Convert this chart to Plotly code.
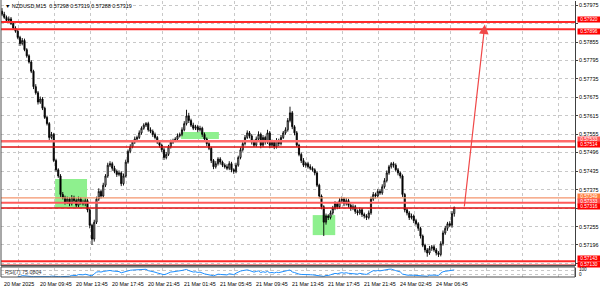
import numpy as np
import plotly.graph_objects as go

W, H = 600, 289

# ---------------- data ----------------
first_open = 0.57955
closes = [
    0.57945, 0.57935, 0.57925, 0.57930, 0.57915, 0.57900, 0.57890, 0.57870, 0.57850, 0.57860,
    0.57830, 0.57810, 0.57790, 0.57760, 0.57710, 0.57690, 0.57660, 0.57670, 0.57640, 0.57610,
    0.57590, 0.57545, 0.57555, 0.57470, 0.57440, 0.57420, 0.57360, 0.57350, 0.57335, 0.57345,
    0.57330, 0.57350, 0.57340, 0.57325, 0.57345, 0.57335, 0.57330, 0.57340, 0.57310, 0.57260,
    0.57215, 0.57270, 0.57345, 0.57370, 0.57355, 0.57390, 0.57420, 0.57455, 0.57460, 0.57445,
    0.57435, 0.57425, 0.57430, 0.57395, 0.57420, 0.57465, 0.57500, 0.57515, 0.57530, 0.57540,
    0.57545, 0.57560, 0.57575, 0.57585, 0.57590, 0.57570, 0.57565, 0.57555, 0.57545, 0.57530,
    0.57520, 0.57505, 0.57480, 0.57490, 0.57515, 0.57530, 0.57535, 0.57540, 0.57550, 0.57555,
    0.57570, 0.57590, 0.57615, 0.57600, 0.57585, 0.57575, 0.57580, 0.57570, 0.57575, 0.57555,
    0.57540, 0.57525, 0.57510, 0.57470, 0.57450, 0.57460, 0.57475, 0.57465, 0.57455, 0.57450,
    0.57445, 0.57460, 0.57440, 0.57435, 0.57455, 0.57480, 0.57505, 0.57525, 0.57545, 0.57560,
    0.57550, 0.57530, 0.57520, 0.57540, 0.57555, 0.57520, 0.57545, 0.57530, 0.57560, 0.57520,
    0.57530, 0.57515, 0.57535, 0.57525, 0.57545, 0.57560, 0.57570, 0.57600, 0.57625, 0.57580,
    0.57560, 0.57520, 0.57490, 0.57470, 0.57455, 0.57460, 0.57450, 0.57445, 0.57440, 0.57430,
    0.57390, 0.57355, 0.57320, 0.57270, 0.57290, 0.57285, 0.57300, 0.57315, 0.57330, 0.57320,
    0.57340, 0.57345, 0.57330, 0.57340, 0.57325, 0.57315, 0.57320, 0.57305, 0.57300, 0.57310,
    0.57295, 0.57290, 0.57285, 0.57300, 0.57345, 0.57360, 0.57355, 0.57370, 0.57365, 0.57385,
    0.57405, 0.57430, 0.57450, 0.57460, 0.57455, 0.57440, 0.57430, 0.57420, 0.57360, 0.57310,
    0.57300, 0.57285, 0.57290, 0.57275, 0.57265, 0.57250, 0.57225, 0.57195, 0.57180, 0.57170,
    0.57185, 0.57190, 0.57180, 0.57170, 0.57165, 0.57200, 0.57235, 0.57250, 0.57265, 0.57260,
    0.57298, 0.57319,
]
# wick lengths in points (0.00001)
upper_wick = [
    10, 8, 6, 8, 6, 5, 6, 5, 5, 8, 6, 5, 5, 6, 5, 8, 6, 8, 6, 5,
    6, 5, 8, 5, 6, 5, 6, 8, 6, 8, 6, 8, 6, 7, 8, 6, 8, 7, 6, 5,
    5, 8, 8, 10, 6, 8, 6, 8, 8, 6, 8, 6, 8, 5, 8, 8, 6, 8, 6, 8,
    6, 8, 6, 6, 5, 6, 8, 6, 6, 5, 6, 5, 6, 8, 6, 8, 6, 6, 8, 6,
    8, 8, 20, 10, 6, 8, 6, 6, 8, 5, 6, 5, 6, 5, 5, 8, 6, 6, 5, 6,
    8, 8, 6, 5, 8, 6, 8, 6, 8, 8, 6, 6, 8, 8, 10, 6, 8, 6, 10, 6,
    8, 6, 8, 6, 8, 6, 8, 8, 20, 6, 5, 6, 5, 6, 8, 6, 6, 8, 6, 5,
    6, 5, 5, 5, 8, 6, 8, 8, 8, 6, 8, 8, 6, 8, 6, 6, 8, 6, 6, 8,
    6, 6, 6, 8, 8, 8, 6, 8, 6, 8, 8, 8, 6, 5, 6, 6, 6, 5, 5, 5,
    6, 6, 8, 5, 6, 5, 5, 5, 5, 6, 8, 6, 6, 6, 6, 8, 8, 8, 6, 8,
    8, 0,
]
lower_wick = [
    6, 5, 8, 6, 5, 6, 5, 6, 8, 6, 5, 6, 5, 6, 8, 6, 8, 6, 6, 5,
    6, 8, 6, 5, 6, 6, 8, 6, 8, 6, 8, 6, 8, 6, 6, 8, 6, 8, 8, 10,
    19, 8, 6, 6, 8, 5, 6, 6, 6, 8, 6, 8, 6, 8, 6, 5, 5, 6, 5, 6,
    5, 5, 6, 5, 6, 6, 6, 8, 6, 6, 8, 8, 8, 6, 5, 6, 6, 5, 6, 5,
    6, 5, 6, 8, 6, 6, 6, 8, 6, 8, 6, 8, 6, 8, 8, 6, 6, 8, 6, 6,
    6, 6, 8, 8, 6, 5, 6, 6, 6, 5, 8, 8, 6, 6, 6, 10, 6, 8, 6, 10,
    8, 8, 6, 8, 6, 5, 6, 6, 6, 8, 8, 6, 6, 8, 6, 8, 6, 6, 6, 8,
    6, 8, 8, 45, 8, 8, 6, 6, 6, 8, 6, 6, 8, 6, 8, 8, 6, 8, 8, 6,
    8, 8, 8, 6, 6, 6, 8, 6, 6, 6, 6, 6, 6, 6, 8, 6, 8, 8, 8, 8,
    8, 8, 6, 8, 6, 8, 8, 6, 8, 12, 6, 8, 6, 8, 8, 6, 6, 6, 8, 6,
    8, 10,
]

tick_labels = ["20 Mar 2025", "20 Mar 09:45", "20 Mar 13:45", "20 Mar 17:45", "20 Mar 21:45",
               "21 Mar 01:45", "21 Mar 05:45", "21 Mar 09:45", "21 Mar 13:45", "21 Mar 17:45",
               "21 Mar 21:45", "24 Mar 02:45", "24 Mar 06:45"]
# grid prices; labels hidden behind level tags are left blank
price_ticks = [0.57975, 0.57915, 0.57855, 0.57795, 0.57735, 0.57675, 0.57615, 0.57555,
               0.57496, 0.57435, 0.57375, 0.57315, 0.57255, 0.57196, 0.57136]
price_tick_text = ["0.57975", "", "0.57855", "0.57795", "0.57735", "0.57675", "0.57615",
                   "0.57555", "0.57496", "0.57435", "0.57375", "", "0.57255", "0.57196", ""]

levels = [0.57920, 0.57896, 0.57533, 0.57514, 0.57349, 0.57333, 0.57316, 0.57143, 0.57130]
level_text = ["0.57920", "0.57896", "0.57533", "0.57514", "0.57349", "0.57333", "0.57316", "0.57143", "0.57130"]

zones = [  # (bar_from, bar_to, price_low, price_high)
    (23.6, 37.8, 0.57316, 0.57410),
    (79.6, 96.4, 0.57540, 0.57563),
    (138.1, 148.1, 0.57228, 0.57293),
]
arrow_from = (205.4, 0.57316)
arrow_to = (214.6, 0.57912)
title_text = "▼ NZDUSD,M15  0.57298 0.57319 0.57288 0.57319"
rsi_text = "RSI(7) 75.0804"

# ---------------- derived ----------------
n = len(closes)
assert len(upper_wick) == n and len(lower_wick) == n, (n, len(upper_wick), len(lower_wick))
opens = [first_open] + closes[:-1]
highs = [max(o, c) + u * 1e-5 for o, c, u in zip(opens, closes, upper_wick)]
lows = [min(o, c) - l * 1e-5 for o, c, l in zip(opens, closes, lower_wick)]
xs = list(range(n))

# RSI(7), Wilder smoothing
period = 7
c = np.array(closes)
d = np.diff(c)
gain = np.where(d > 0, d, 0.0)
loss = np.where(d < 0, -d, 0.0)
rsi = [None] * n
ag = gain[:period].mean()
al = loss[:period].mean()
rsi[period] = 100 - 100 / (1 + ag / al) if al > 0 else 100
for i in range(period, len(d)):
    ag = (ag * (period - 1) + gain[i]) / period
    al = (al * (period - 1) + loss[i]) / period
    rsi[i + 1] = 100 - 100 / (1 + ag / al) if al > 0 else 100

# ---------------- geometry helpers ----------------
def px(x):
    return x / W

def py(y):
    return 1 - y / H

X_LEFT, X_RIGHT = 1, 575
MAIN_TOP, MAIN_BOT = 1, 266
RSI_TOP, RSI_BOT = 268, 277
bar0_px, bar_step = 2.0, 2.25
x_range = [(X_LEFT - bar0_px) / bar_step, (X_RIGHT - bar0_px) / bar_step]

def p_at(y):
    return 0.57855 - (y - 42) / 30800.0
y_range = [p_at(MAIN_BOT), p_at(MAIN_TOP)]

# tag label vertical centres (pixels) – stacked like the terminal does
tag_y_px = [20, 31.5, 139.5, 144.5, 196.2, 201.3, 206.4, 258.8, 264.2]

FONT = "Liberation Sans"
FS = 5.4

fig = go.Figure()
fig.add_trace(go.Candlestick(
    x=xs, open=opens, high=highs, low=lows, close=closes,
    increasing=dict(line=dict(color="black", width=0.9), fillcolor="white"),
    decreasing=dict(line=dict(color="black", width=0.9), fillcolor="black"),
    whiskerwidth=0, xaxis="x", yaxis="y", showlegend=False, hoverinfo="skip",
))
fig.add_trace(go.Scatter(
    x=xs, y=rsi, mode="lines", line=dict(color="#1e90ff", width=1),
    xaxis="x2", yaxis="y2", showlegend=False, hoverinfo="skip",
))

grid_x = [7.5 + 16 * k for k in range(16)]
grid_col = "#c8c8c8"

fig.update_layout(
    width=W, height=H, margin=dict(l=0, r=0, t=0, b=0),
    paper_bgcolor="white", plot_bgcolor="white",
    font=dict(family=FONT, size=FS, color="black"),
    xaxis=dict(domain=[px(X_LEFT), px(X_RIGHT)], range=x_range, anchor="y",
               showticklabels=False, tickvals=grid_x, ticks="", showgrid=True,
               gridcolor=grid_col, griddash="dot", gridwidth=1, zeroline=False,
               rangeslider=dict(visible=False), showline=False),
    yaxis=dict(domain=[py(MAIN_BOT), py(MAIN_TOP)], range=y_range, side="right",
               anchor="x", tickvals=price_ticks, ticktext=price_tick_text,
               tickfont=dict(family=FONT, size=FS, color="black"),
               ticks="outside", ticklen=2, tickcolor="#404040",
               showgrid=True, gridcolor=grid_col, griddash="dot", gridwidth=1,
               zeroline=False, showline=True, linecolor="#404040", linewidth=1),
    xaxis2=dict(domain=[px(X_LEFT), px(X_RIGHT)], range=x_range, anchor="y2", matches="x",
                showticklabels=False, tickvals=grid_x, ticks="", showgrid=True,
                gridcolor=grid_col, griddash="dot", zeroline=False, showline=False),
    yaxis2=dict(domain=[py(RSI_BOT), py(RSI_TOP)], range=[0, 100], side="right", anchor="x2",
                tickvals=[30, 70], showticklabels=False, ticks="", showgrid=True,
                gridcolor=grid_col, griddash="dot", zeroline=False,
                showline=True, linecolor="#404040", linewidth=1),
)

shapes = []
for b0, b1, lo, hi in zones:
    shapes.append(dict(type="rect", xref="x", yref="y", x0=b0, x1=b1, y0=lo, y1=hi,
                       fillcolor="#8ef08e", line=dict(width=0), layer="between"))
line_styles = [
    ("#ff2a2a", 2.0), ("#ff2a2a", 2.0),
    ("#ff6a6a", 2.5), ("#e01010", 1.4),
    ("#f4946c", 1.2), ("#ff5a5a", 2.0), ("#e01010", 1.4),
    ("#ff2a2a", 2.0), ("#e01010", 1.4),
]
for lv, (col, w) in zip(levels, line_styles):
    shapes.append(dict(type="line", xref="paper", yref="y", x0=px(X_LEFT), x1=px(X_RIGHT),
                       y0=lv, y1=lv, line=dict(color=col, width=w), layer="above"))
shapes.append(dict(type="line", xref="paper", yref="paper", x0=px(1), x1=px(1),
                   y0=py(MAIN_BOT), y1=py(0), line=dict(color="#505050", width=1)))
shapes.append(dict(type="rect", xref="paper", yref="paper", x0=px(1), x1=px(X_RIGHT),
                   y0=py(266.5), y1=py(265), fillcolor="#505050", line=dict(width=0)))
shapes.append(dict(type="rect", xref="paper", yref="paper", x0=px(1), x1=px(X_RIGHT),
                   y0=py(RSI_BOT), y1=py(RSI_TOP - 1), line=dict(color="#505050", width=1)))
fig.update_layout(shapes=shapes)

ann = []
tag_colors = ["#ff0000", "#ff0000", "#ff5a5a", "#ff0000", "#ff8040", "#ff4a4a", "#ff0000", "#ff0000", "#ff0000"]
for t, col, ty in zip(level_text, tag_colors, tag_y_px):
    ann.append(dict(x=px(577), xref="paper", y=py(ty), yref="paper", xanchor="left", yanchor="middle",
                    text=t, showarrow=False, bgcolor=col, borderpad=0,
                    font=dict(family=FONT, size=4.8, color="white"), width=22, height=4.6))
for k, t in enumerate(tick_labels):
    ann.append(dict(x=16 * k, xref="x", y=py(284), yref="paper", xanchor="left",
                    yanchor="middle", text=t, showarrow=False,
                    font=dict(family=FONT, size=FS, color="black")))
ann.append(dict(x=px(3), xref="paper", y=py(6), yref="paper", xanchor="left", yanchor="middle",
                text=title_text, showarrow=False, font=dict(family=FONT, size=FS, color="black")))
ann.append(dict(x=px(3), xref="paper", y=py(271.5), yref="paper", xanchor="left", yanchor="middle",
                text=rsi_text, showarrow=False, font=dict(family=FONT, size=FS, color="#303030")))
ann.append(dict(x=px(577), xref="paper", y=py(269.5), yref="paper", xanchor="left", yanchor="middle",
                text="100", showarrow=False, font=dict(family=FONT, size=4.6, color="black")))
ann.append(dict(x=px(577), xref="paper", y=py(274), yref="paper", xanchor="left", yanchor="middle",
                text="0", showarrow=False, font=dict(family=FONT, size=4.6, color="black")))
ann.append(dict(x=arrow_to[0], y=arrow_to[1], xref="x", yref="y",
                ax=arrow_from[0], ay=arrow_from[1], axref="x", ayref="y",
                text="", showarrow=True, arrowhead=2, arrowsize=1.6, arrowwidth=1.2,
                arrowcolor="#f04848", standoff=0, startstandoff=0))
fig.update_layout(annotations=ann)

fig.write_html("out.html")
